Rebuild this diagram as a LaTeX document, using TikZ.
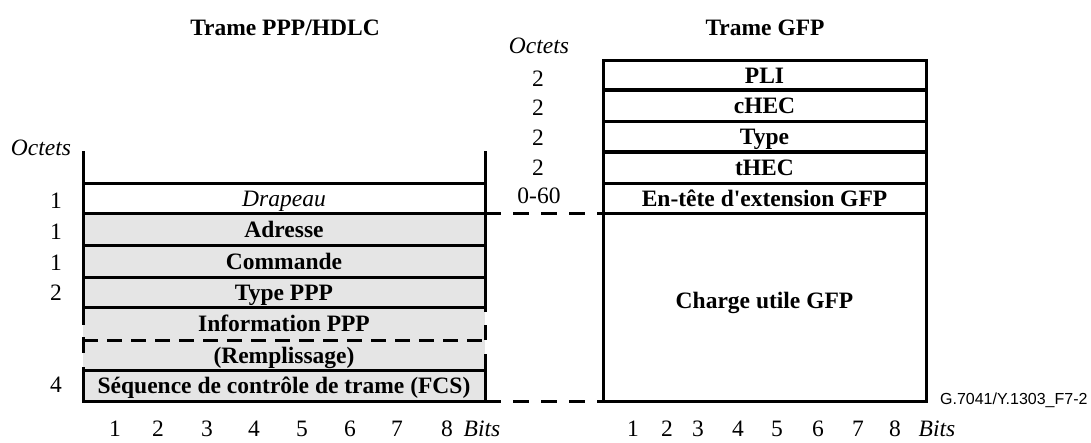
\documentclass[tikz,border=0pt]{standalone}
\usepackage{fontspec}
\setmainfont{Liberation Serif}
\newfontfamily\arialf{Liberation Sans}
\begin{document}
\begin{tikzpicture}[x=1pt,y=-1pt,line width=3pt,line cap=rect,
  txt/.style={inner sep=0pt,outer sep=0pt,font=\fontsize{23.5}{26}\selectfont,text height=16pt,text depth=0pt},
  bold/.style={txt,font=\fontsize{23.5}{26}\selectfont\bfseries},
  ital/.style={txt,font=\fontsize{23.5}{26}\selectfont\itshape},
  rowL/.style={bold,rectangle,minimum width=402pt,fill=gray!20},
  rowG/.style={bold,rectangle,minimum width=323pt,draw,fill=white},
  dashln/.style={line cap=butt,dash pattern=on 16pt off 12pt},
  num/.style={txt},
]
\useasboundingbox (0,0) rectangle (1091,442);

% titles
\node[bold] (t1) at (285,27) {Trame PPP/HDLC};
\node[bold] (t2) at (765,27) {Trame GFP};
\node[ital] (octL) at (41,147) {Octets};
\node[ital] (octG) at (539,45) {Octets};

% PPP/HDLC frame rows
\node[rowL,fill=white,minimum height=30pt,font=\fontsize{23.5}{26}\selectfont\itshape] (drap) at (284,198) {Drapeau};
\node[rowL,minimum height=32pt] (adr) at (284,229) {Adresse};
\node[rowL,minimum height=32pt] (cmd) at (284,261) {Commande};
\node[rowL,minimum height=30pt] (typ) at (284,292) {Type PPP};
\node[rowL,minimum height=33pt] (info) at (284,323.5) {Information PPP};
\node[rowL,minimum height=30pt] (rempl) at (284,355) {(Remplissage)};
\node[rowL,minimum height=31pt] (fcs) at (284,385.5) {Séquence de contrôle de trame (FCS)};

% horizontal lines of PPP frame
\draw (drap.north west) -- (drap.north east);
\draw (drap.south west) -- (drap.south east);
\draw (adr.south west) -- (adr.south east);
\draw (cmd.south west) -- (cmd.south east);
\draw (typ.south west) -- (typ.south east);
\draw[line cap=butt,dash pattern=on 15pt off 9pt] (info.south west) -- (info.south east);
\draw (rempl.south west) -- (rempl.south east);
\draw (fcs.south west) -- (fcs.south east);

% sides of PPP frame
\coordinate (tl) at (83,152);
\coordinate (tr) at (485,152);
\draw (tl) -- (info.west);
\draw[line cap=butt] (83,337) -- (83,353);
\draw (83,368) -- (fcs.south west);
\draw (tr) -- (485,310);
\draw[line cap=butt] (485,325) -- (485,340);
\draw (485,355) -- (fcs.south east);

% octet counts PPP
\node[num] (n1) at (56,200) {1};
\node[num] (n2) at (56,231) {1};
\node[num] (n3) at (56,262) {1};
\node[num] (n4) at (56,292.5) {2};
\node[num] (n5) at (56,384) {4};

% GFP frame
\node[rowG,minimum height=30pt] (pli) at (764.5,75) {PLI};
\node[rowG,minimum height=31pt] (chec) at (764.5,105.5) {cHEC};
\node[rowG,minimum height=31pt] (gtype) at (764.5,136.5) {Type};
\node[rowG,minimum height=31pt] (thec) at (764.5,167.5) {tHEC};
\node[rowG,minimum height=30pt] (ext) at (764.5,198) {En-tête d\textquotesingle extension GFP};
\node[rowG,minimum height=188pt] (pay) at (764.5,307) {};
\node[bold] (paylab) at (764.5,300) {Charge utile GFP};
\draw[line width=4.5pt,line cap=butt] (pli.south west) -- (pli.south east);
\draw[line width=4.5pt,line cap=butt] (gtype.south west) -- (gtype.south east);

% octet counts GFP
\node[num] (g1) at (538,78) {2};
\node[num] (g2) at (538,107) {2};
\node[num] (g3) at (538,137) {2};
\node[num] (g4) at (538,167) {2};
\node[num] (g5) at (539,195) {0-60};

% dashed connectors
\draw[dashln] (drap.south east) -- (ext.south west);
\draw[dashln] (fcs.south east) -- (pay.south west);

% bit numbers
\foreach \x/\l [count=\i] in {115/1,158/2,207/3,254/4,302/5,350/6,397/7,447/8}
  \node[num] (bl\i) at (\x,428) {\l};
\node[ital] (bitsL) at (482,428) {Bits};
\foreach \x/\l [count=\i] in {633/1,667/2,698/3,738/4,777/5,818/6,858/7,895/8}
  \node[num] (bg\i) at (\x,428) {\l};
\node[ital] (bitsG) at (937,428) {Bits};

\node[anchor=east,inner sep=0pt,font=\arialf\fontsize{16}{18}\selectfont,text height=11.5pt,text depth=0pt] (ref) at (1089,398.5) {G.7041/Y.1303\_F7-2};
\end{tikzpicture}
\end{document}
